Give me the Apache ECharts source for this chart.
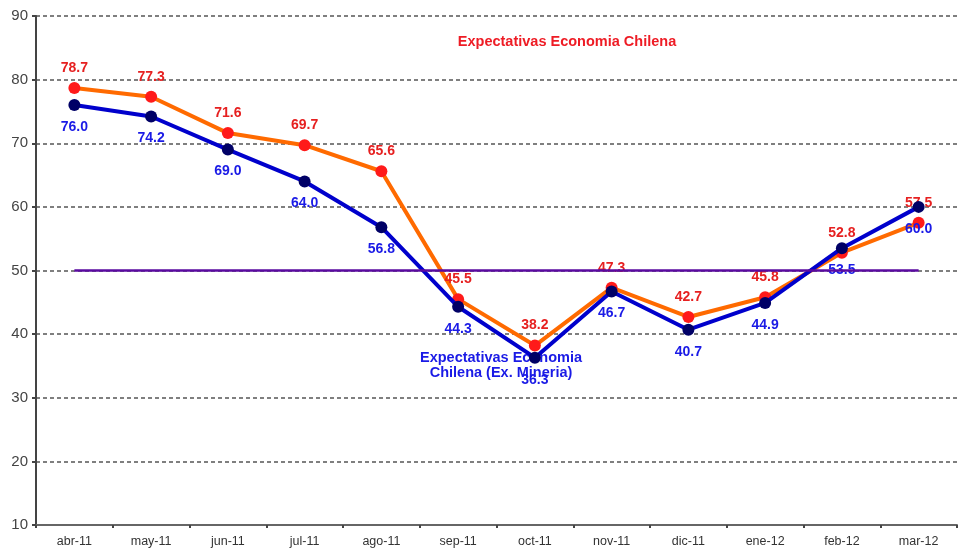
<!DOCTYPE html>
<html>
<head>
<meta charset="utf-8">
<script src="https://cdn.jsdelivr.net/npm/echarts@6/dist/echarts.min.js"></script>
<style>
  html, body { margin: 0; padding: 0; background: #fff; }
  #chart { width: 965px; height: 556px; }
</style>
</head>
<body>
<div id="chart"></div>
<script>
const months = ['abr-11', 'may-11', 'jun-11', 'jul-11', 'ago-11', 'sep-11', 'oct-11', 'nov-11', 'dic-11', 'ene-12', 'feb-12', 'mar-12']
const economia = [78.7, 77.3, 71.6, 69.7, 65.6, 45.5, 38.2, 47.3, 42.7, 45.8, 52.8, 57.5]
const exMineria = [76.0, 74.2, 69.0, 64.0, 56.8, 44.3, 36.3, 46.7, 40.7, 44.9, 53.5, 60.0]
const neutral = 50

const chart = echarts.init(document.getElementById('chart'))

const fontFam = 'Liberation Sans, Arial, sans-serif'
const labelFont = { fontFamily: fontFam, fontWeight: 'bold', fontSize: 14 }

chart.setOption({
  animation: false,
  backgroundColor: '#fff',
  grid: { left: 36, right: 8, top: 16, bottom: 31 },
  graphic: [
    {
      type: 'text', x: 567, y: 34,
      style: { text: 'Expectativas Economia Chilena', fill: '#ee1c25', align: 'center', verticalAlign: 'top', font: 'bold 14.5px ' + fontFam }
    },
    {
      type: 'text', x: 501, y: 350,
      style: {
        text: 'Expectativas Economia\nChilena (Ex. Mineria)', fill: '#1a1ae6', align: 'center', verticalAlign: 'top',
        font: 'bold 14.5px ' + fontFam, lineHeight: 15
      }
    }
  ],
  xAxis: {
    type: 'category',
    data: months,
    boundaryGap: true,
    axisLine: { lineStyle: { color: '#666', width: 2 } },
    axisTick: { show: true, length: 3, lineStyle: { color: '#444', width: 2 } },
    axisLabel: { color: '#333', fontSize: 12.5, fontFamily: fontFam, margin: 10 }
  },
  yAxis: {
    type: 'value',
    min: 10, max: 90, interval: 10,
    axisLine: { show: true, lineStyle: { color: '#444', width: 2 } },
    axisTick: { show: true, length: 4, lineStyle: { color: '#444', width: 2 } },
    axisLabel: { color: '#444', fontSize: 15, fontFamily: fontFam, margin: 8 },
    splitLine: { show: true, lineStyle: { color: '#555', width: 1.5, type: [4, 3] } }
  },
  series: [
    {
      name: 'Expectativas Economia Chilena',
      type: 'line',
      data: economia,
      symbol: 'circle',
      symbolSize: 12,
      lineStyle: { color: '#ff6a00', width: 4 },
      itemStyle: { color: '#ff1a1a' },
      label: {
        show: true, position: 'top', distance: 7, color: '#e62020',
        formatter: p => p.value.toFixed(1), ...labelFont
      },
      markLine: {
        silent: true,
        symbol: 'none',
        label: { show: false },
        lineStyle: { color: '#5a0aa0', width: 2.5, type: 'solid' },
        data: [[{ coord: [months[0], neutral] }, { coord: [months[months.length - 1], neutral] }]]
      },
      z: 3
    },
    {
      name: 'Expectativas Economia Chilena (Ex. Mineria)',
      type: 'line',
      data: exMineria,
      symbol: 'circle',
      symbolSize: 12,
      lineStyle: { color: '#0000cc', width: 4 },
      itemStyle: { color: '#000066' },
      label: {
        show: true, position: 'bottom', distance: 9, color: '#1a1ae6',
        formatter: p => p.value.toFixed(1), ...labelFont
      },
      z: 4
    }
  ]
})
</script>
</body>
</html>
